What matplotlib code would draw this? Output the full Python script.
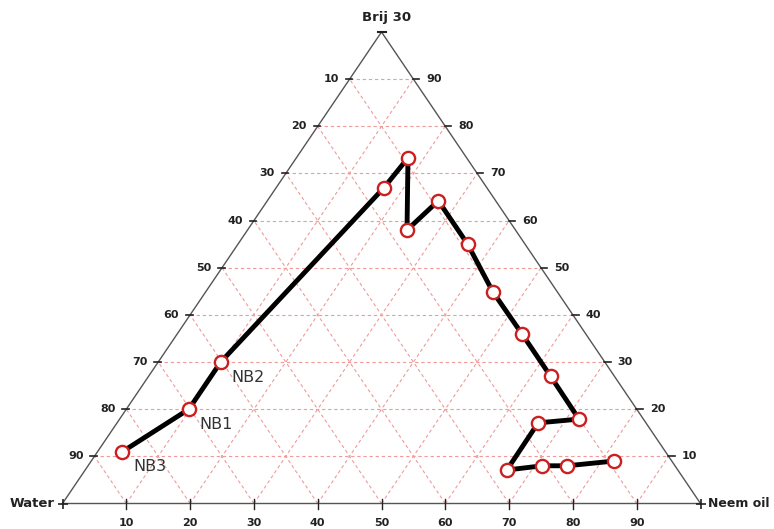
import numpy as np
import matplotlib
matplotlib.use("Agg")
import matplotlib.pyplot as plt

# composition points in %, in drawing order
brij = [11, 20, 30, 67, 73.3, 58, 64.2, 55, 44.9, 36, 27, 17.9, 17.1, 7.1, 8, 8, 9]
neem = [3.9, 9.8, 9.8, 16.9, 17.5, 25, 26.8, 36, 45, 54, 63, 72, 66, 66.1, 71.2, 75.1, 81.9]
water = [100 - b - n for b, n in zip(brij, neem)]

point_labels = {"NB3": 0, "NB1": 1, "NB2": 2}
ticks = [10, 20, 30, 40, 50, 60, 70, 80, 90]
corner_names = ["Water", "Neem oil", "Brij 30"]


def to_xy(b, n):
    b = np.asarray(b) / 100.0
    n = np.asarray(n) / 100.0
    return n + b / 2, b


fig = plt.figure(figsize=(7.74, 5.29), dpi=100)
ax = fig.add_axes([62.5 / 774, 25.5 / 529, 638 / 774, 471.5 / 529])
ax.set_xlim(0, 1)
ax.set_ylim(0, 1)
ax.axis("off")

# pixel -> data helpers
px = 1 / 638.0
py = 1 / 471.5

# grid
grid_kw = dict(color="#f09a9a", lw=0.8, ls=(0, (3, 2.5)), zorder=1)
for k in ticks:
    # constant brij
    x, y = to_xy([k, k], [0, 100 - k])
    ax.plot(x, y, **grid_kw)
    # constant neem
    x, y = to_xy([0, 100 - k], [k, k])
    ax.plot(x, y, **grid_kw)
    # constant water
    x, y = to_xy([0, k], [k, 0])
    ax.plot(x, y, **grid_kw)

# triangle
ax.plot([0, 1, 0.5, 0], [0, 0, 1, 0], color="#555555", lw=1.0, zorder=2, clip_on=False)

tick_font = dict(fontsize=8, fontweight="bold", color="#222222", family="DejaVu Sans")
for k in ticks:
    # bottom (neem oil)
    x, y = to_xy(0, k)
    ax.plot([x, x], [-5 * py, 5 * py], color="#222222", lw=1.0, clip_on=False, zorder=3)
    ax.text(x, -19 * py, str(k), ha="center", va="center", **tick_font)
    # left (water)
    x, y = to_xy(100 - k, 0)
    ax.plot([x - 4 * px, x + 2.5 * px], [y, y], color="#222222", lw=1.2, clip_on=False, zorder=3)
    ax.text(x - 11 * px, y, str(k), ha="right", va="center", **tick_font)
    # right (brij)
    x, y = to_xy(k, 100 - k)
    ax.plot([x - 0.5 * px, x + 6 * px], [y, y], color="#222222", lw=1.2, clip_on=False, zorder=3)
    ax.text(x + 13 * px, y, str(k), ha="left", va="center", **tick_font)

# corners
ax.plot([0, 1], [0, 0], "+", color="#222222", ms=7, mew=1.2, clip_on=False, zorder=3)
ax.plot([0.5 - 4 * px, 0.5 + 4 * px], [1, 1], color="#222222", lw=1.5, clip_on=False, zorder=3)
corner_font = dict(fontsize=9.5, fontweight="bold", color="#222222", family="DejaVu Sans")
ax.text(-8 * px, 0, corner_names[0], ha="right", va="center", **corner_font)
ax.text(1 + 8 * px, 0, corner_names[1], ha="left", va="center", fontsize=9, fontweight="bold",
        color="#222222", family="DejaVu Sans")
ax.text(0.5 + 5 * px, 1 + 8 * py, corner_names[2], ha="center", va="bottom", **corner_font)

# data path
x, y = to_xy(brij, neem)
ax.plot(x, y, color="black", lw=3.5, zorder=4, clip_on=False, solid_capstyle="round")
ax.plot(x, y, "o", ms=9.5, mfc="white", mec="#cc2020", mew=1.7, zorder=5, clip_on=False)

for name, i in point_labels.items():
    ax.text(x[i] + 11 * px, y[i] - 15 * py, name, ha="left", va="center",
            fontsize=11.5, color="#333333", family="DejaVu Sans", fontweight="medium")

fig.savefig("out.png", dpi=100)
